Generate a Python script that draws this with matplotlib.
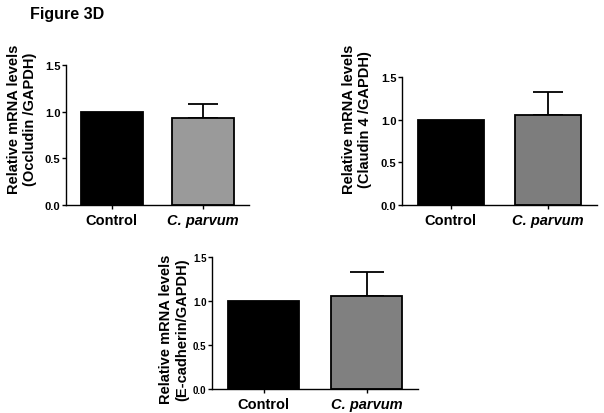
import matplotlib
matplotlib.use("Agg")
import matplotlib.pyplot as plt

plt.rcParams['font.family'] = ['Liberation Sans', 'DejaVu Sans']

categories = ["Control", "C. parvum"]
occludin = [1.0, 0.93]
occludin_err = [0.0, 0.15]
claudin4 = [1.0, 1.06]
claudin4_err = [0.0, 0.27]
ecadherin = [1.0, 1.06]
ecadherin_err = [0.0, 0.27]
yticks = [0.0, 0.5, 1.0, 1.5]

fig = plt.figure(figsize=(6.04, 4.14), dpi=100)
fig.text(30/604, 1 - 15/414, "Figure 3D", fontsize=11.5, fontweight='bold', va='center', ha='left')

panels = [
    ([66/604, 1-206/414, 183/604, 140/414], occludin, occludin_err, "#9a9a9a",
     "Relative mRNA levels\n(Occludin /GAPDH)", 10.5, (-0.158, 0.618), 8),
    ([402/604, 1-206/414, 195/604, 128/414], claudin4, claudin4_err, "#7d7d7d",
     "Relative mRNA levels\n(Claudin 4 /GAPDH)", 11, (-0.154, 0.676), 8),
    ([212/604, 1-390/414, 206/604, 132/414], ecadherin, ecadherin_err, "#808080",
     "Relative mRNA levels\n(E-cadherin/GAPDH)", 12.5, (-0.112, 0.46), 7),
]

for rect, vals, errs, col, ylab, cap, lc, tfs in panels:
    ax = fig.add_axes(rect)
    x = list(range(len(categories)))
    ax.bar(x, vals, width=0.68, color=["black", col], edgecolor="black", linewidth=1.3, zorder=2)
    ax.errorbar(x[1:], vals[1:], yerr=[[0], errs[1:]], fmt='none', ecolor='black',
                elinewidth=1.3, capsize=cap, capthick=1.3, zorder=1)
    ax.set_xlim(-0.5, 1.5)
    ax.set_ylim(0, 1.5)
    ax.set_yticks(yticks)
    ax.set_yticklabels([f"{v:.1f}" for v in yticks], fontsize=tfs, fontweight='bold')
    ax.set_xticks(x)
    ax.set_xticklabels(["Control", "C. parvum"], fontsize=10.5, fontweight='bold')
    ax.get_xticklabels()[1].set_fontstyle('italic')
    ax.tick_params(axis='y', length=3, width=1, pad=1)
    ax.tick_params(axis='x', length=3, width=1, pad=3)
    for s in ['top', 'right']:
        ax.spines[s].set_visible(False)
    for s in ['left', 'bottom']:
        ax.spines[s].set_linewidth(1.0)
    ax.set_ylabel(ylab, fontsize=10.5, fontweight='bold', linespacing=1.15)
    ax.yaxis.set_label_coords(*lc)

fig.savefig("out.png", dpi=100)
